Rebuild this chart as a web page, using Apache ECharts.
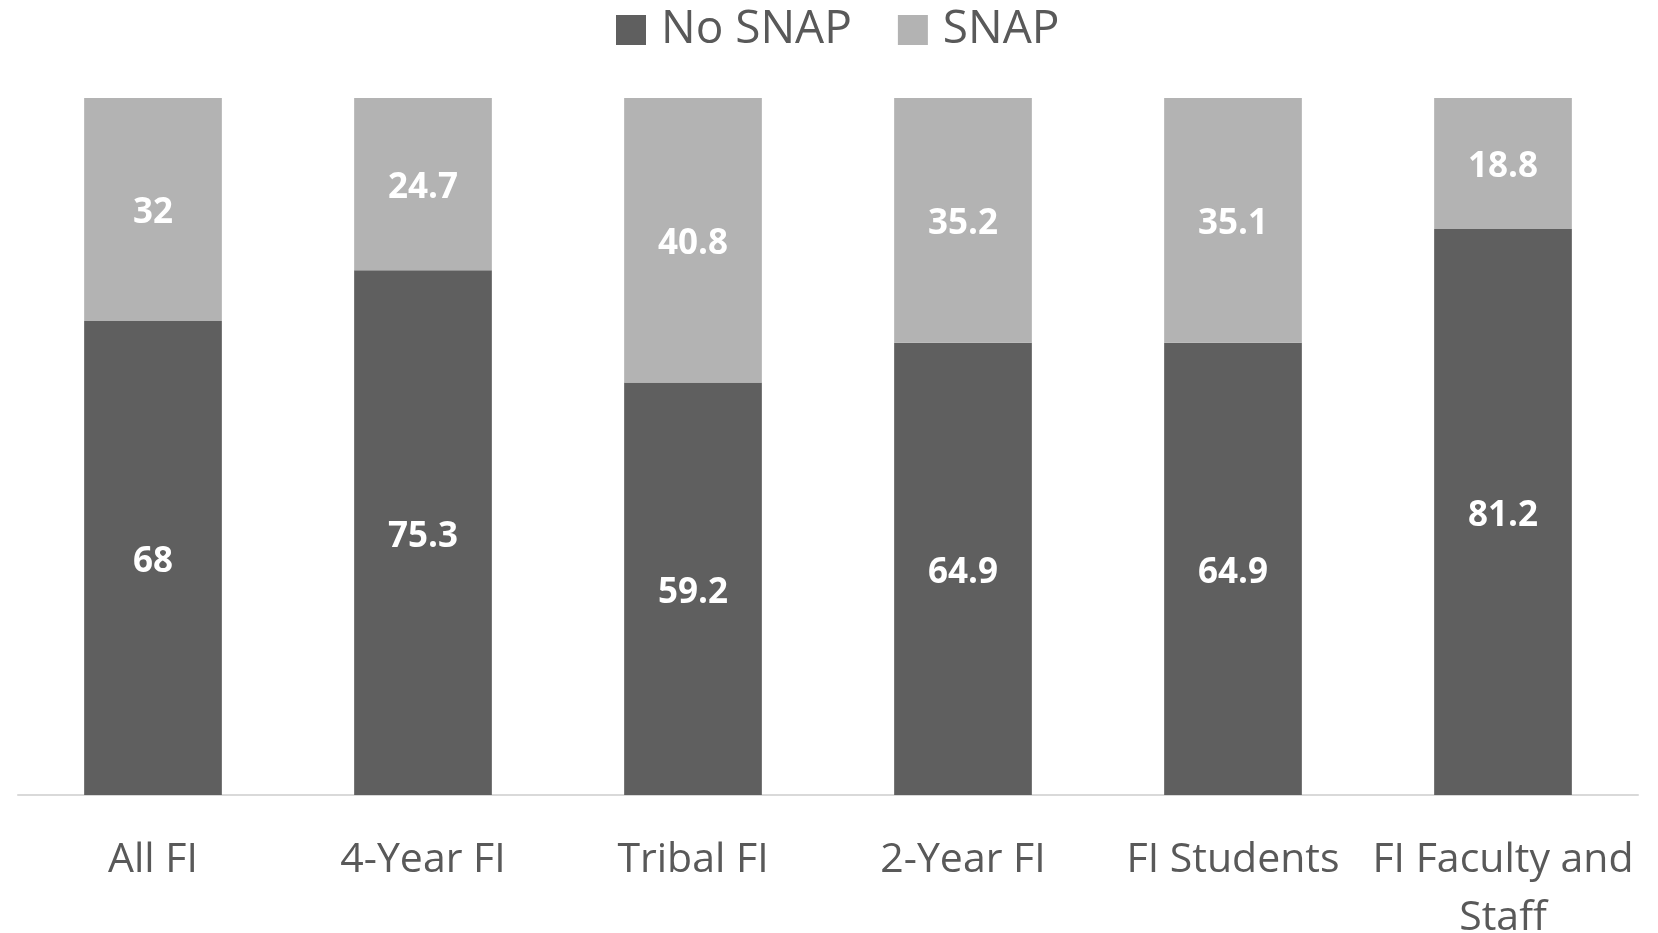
<!DOCTYPE html>
<html>
<head>
<meta charset="utf-8">
<script src="https://cdn.jsdelivr.net/npm/echarts@6/dist/echarts.min.js"></script>
<style>
  html, body { margin: 0; padding: 0; background: #ffffff; }
  #chart { width: 1658px; height: 933px; }
</style>
</head>
<body>
<div id="chart"></div>
<script>
// Share of food-insecure respondents by SNAP participation (%)
const categories = ['All FI', '4-Year FI', 'Tribal FI', '2-Year FI', 'FI Students', 'FI Faculty and\nStaff'];
const noSnap = [68, 75.3, 59.2, 64.9, 64.9, 81.2];
const snap = [32, 24.7, 40.8, 35.2, 35.1, 18.8];

const FONT = '"Open Sans", "DejaVu Sans", sans-serif';
const labelStyle = {
  show: true,
  position: 'inside',
  offset: [0, 4],
  color: '#ffffff',
  fontFamily: FONT,
  fontWeight: 'bold',
  fontSize: 35
};

const chart = echarts.init(document.getElementById('chart'), null, { renderer: 'canvas' });
chart.setOption({
  animation: false,
  backgroundColor: '#ffffff',
  legend: {
    top: 2,
    left: 611,
    itemWidth: 30,
    itemHeight: 30,
    itemGap: 46,
    icon: 'rect',
    textStyle: {
      fontFamily: FONT,
      fontSize: 46,
      color: '#595959',
      padding: [0, 0, 0, 10]
    },
    data: ['No SNAP', 'SNAP']
  },
  grid: {
    left: 18, right: 20, top: 98, bottom: 138,
    containLabel: false,
    outerBoundsMode: 'none'
  },
  xAxis: {
    type: 'category',
    data: categories,
    axisLine: { show: true, lineStyle: { color: '#d9d9d9', width: 2 } },
    axisTick: { show: false },
    axisLabel: {
      interval: 0,
      margin: 36,
      fontFamily: FONT,
      fontSize: 41,
      lineHeight: 58,
      color: '#595959'
    }
  },
  yAxis: {
    type: 'value',
    min: 0,
    max: 100,
    show: false
  },
  series: [
    {
      name: 'No SNAP',
      type: 'bar',
      stack: 'total',
      barWidth: '51%',
      itemStyle: { color: '#5f5f5f' },
      label: labelStyle,
      data: noSnap
    },
    {
      name: 'SNAP',
      type: 'bar',
      stack: 'total',
      barWidth: '51%',
      itemStyle: { color: '#b3b3b3' },
      label: labelStyle,
      data: snap
    }
  ]
});
</script>
</body>
</html>
